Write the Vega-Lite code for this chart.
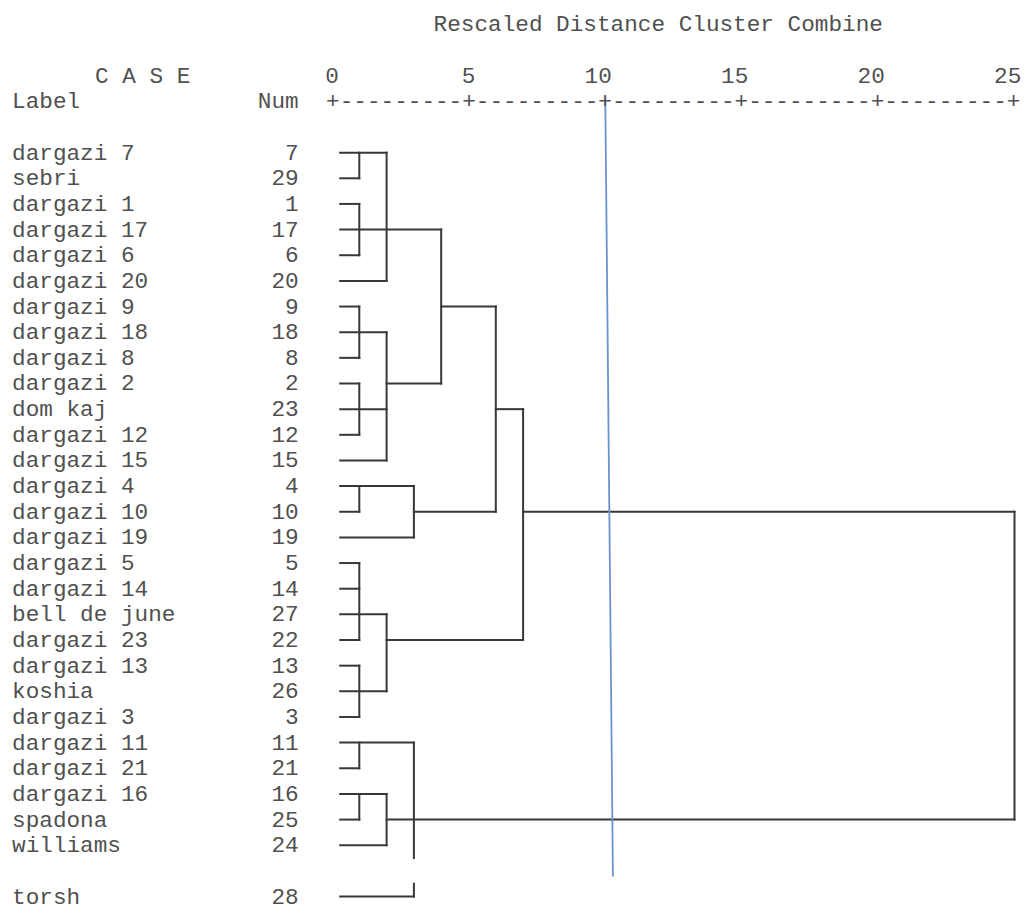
{
  "$schema": "https://vega.github.io/schema/vega-lite/v6.json",
  "width": 1024,
  "height": 905,
  "padding": 0,
  "autosize": {"type": "none"},
  "background": "white",
  "config": {"view": {"stroke": null}, "text": {"font": "Liberation Mono", "fontSize": 22.7, "color": "#505050", "baseline": "middle"}},
  "datasets": {
    "links": [
      {"d1": 0.3, "d2": 2, "r1": 0, "r2": 0},
      {"d1": 0.3, "d2": 1, "r1": 1, "r2": 1},
      {"d1": 0.3, "d2": 1, "r1": 2, "r2": 2},
      {"d1": 0.3, "d2": 4, "r1": 3, "r2": 3},
      {"d1": 0.3, "d2": 1, "r1": 4, "r2": 4},
      {"d1": 0.3, "d2": 2, "r1": 5, "r2": 5},
      {"d1": 0.3, "d2": 1, "r1": 6, "r2": 6},
      {"d1": 4, "d2": 6, "r1": 6, "r2": 6},
      {"d1": 0.3, "d2": 2, "r1": 7, "r2": 7},
      {"d1": 0.3, "d2": 1, "r1": 8, "r2": 8},
      {"d1": 0.3, "d2": 1, "r1": 9, "r2": 9},
      {"d1": 2, "d2": 4, "r1": 9, "r2": 9},
      {"d1": 0.3, "d2": 2, "r1": 10, "r2": 10},
      {"d1": 6, "d2": 7, "r1": 10, "r2": 10},
      {"d1": 0.3, "d2": 1, "r1": 11, "r2": 11},
      {"d1": 0.3, "d2": 2, "r1": 12, "r2": 12},
      {"d1": 0.3, "d2": 3, "r1": 13, "r2": 13},
      {"d1": 0.3, "d2": 1, "r1": 14, "r2": 14},
      {"d1": 3, "d2": 6, "r1": 14, "r2": 14},
      {"d1": 7, "d2": 25, "r1": 14, "r2": 14},
      {"d1": 0.3, "d2": 3, "r1": 15, "r2": 15},
      {"d1": 0.3, "d2": 1, "r1": 16, "r2": 16},
      {"d1": 0.3, "d2": 1, "r1": 17, "r2": 17},
      {"d1": 0.3, "d2": 2, "r1": 18, "r2": 18},
      {"d1": 0.3, "d2": 1, "r1": 19, "r2": 19},
      {"d1": 2, "d2": 7, "r1": 19, "r2": 19},
      {"d1": 0.3, "d2": 1, "r1": 20, "r2": 20},
      {"d1": 0.3, "d2": 2, "r1": 21, "r2": 21},
      {"d1": 0.3, "d2": 1, "r1": 22, "r2": 22},
      {"d1": 0.3, "d2": 3, "r1": 23, "r2": 23},
      {"d1": 0.3, "d2": 1, "r1": 24, "r2": 24},
      {"d1": 0.3, "d2": 2, "r1": 25, "r2": 25},
      {"d1": 0.3, "d2": 1, "r1": 26, "r2": 26},
      {"d1": 2, "d2": 25, "r1": 26, "r2": 26},
      {"d1": 0.3, "d2": 2, "r1": 27, "r2": 27},
      {"d1": 0.3, "d2": 3, "r1": 29, "r2": 29},
      {"d1": 1, "d2": 1, "r1": 0, "r2": 1},
      {"d1": 1, "d2": 1, "r1": 2, "r2": 4},
      {"d1": 1, "d2": 1, "r1": 6, "r2": 8},
      {"d1": 1, "d2": 1, "r1": 9, "r2": 11},
      {"d1": 1, "d2": 1, "r1": 13, "r2": 14},
      {"d1": 1, "d2": 1, "r1": 16, "r2": 19},
      {"d1": 1, "d2": 1, "r1": 20, "r2": 22},
      {"d1": 1, "d2": 1, "r1": 23, "r2": 24},
      {"d1": 1, "d2": 1, "r1": 25, "r2": 26},
      {"d1": 2, "d2": 2, "r1": 0, "r2": 5},
      {"d1": 2, "d2": 2, "r1": 7, "r2": 12},
      {"d1": 2, "d2": 2, "r1": 18, "r2": 21},
      {"d1": 2, "d2": 2, "r1": 25, "r2": 27},
      {"d1": 3, "d2": 3, "r1": 13, "r2": 15},
      {"d1": 3, "d2": 3, "r1": 23, "r2": 27.5},
      {"d1": 3, "d2": 3, "r1": 28.5, "r2": 29},
      {"d1": 4, "d2": 4, "r1": 3, "r2": 9},
      {"d1": 6, "d2": 6, "r1": 6, "r2": 14},
      {"d1": 7, "d2": 7, "r1": 10, "r2": 19},
      {"d1": 25, "d2": 25, "r1": 14, "r2": 26}
    ],
    "cases": [
      {"row": 0, "label": "dargazi 7", "num": "7"},
      {"row": 1, "label": "sebri", "num": "29"},
      {"row": 2, "label": "dargazi 1", "num": "1"},
      {"row": 3, "label": "dargazi 17", "num": "17"},
      {"row": 4, "label": "dargazi 6", "num": "6"},
      {"row": 5, "label": "dargazi 20", "num": "20"},
      {"row": 6, "label": "dargazi 9", "num": "9"},
      {"row": 7, "label": "dargazi 18", "num": "18"},
      {"row": 8, "label": "dargazi 8", "num": "8"},
      {"row": 9, "label": "dargazi 2", "num": "2"},
      {"row": 10, "label": "dom kaj", "num": "23"},
      {"row": 11, "label": "dargazi 12", "num": "12"},
      {"row": 12, "label": "dargazi 15", "num": "15"},
      {"row": 13, "label": "dargazi 4", "num": "4"},
      {"row": 14, "label": "dargazi 10", "num": "10"},
      {"row": 15, "label": "dargazi 19", "num": "19"},
      {"row": 16, "label": "dargazi 5", "num": "5"},
      {"row": 17, "label": "dargazi 14", "num": "14"},
      {"row": 18, "label": "bell de june", "num": "27"},
      {"row": 19, "label": "dargazi 23", "num": "22"},
      {"row": 20, "label": "dargazi 13", "num": "13"},
      {"row": 21, "label": "koshia", "num": "26"},
      {"row": 22, "label": "dargazi 3", "num": "3"},
      {"row": 23, "label": "dargazi 11", "num": "11"},
      {"row": 24, "label": "dargazi 21", "num": "21"},
      {"row": 25, "label": "dargazi 16", "num": "16"},
      {"row": 26, "label": "spadona", "num": "25"},
      {"row": 27, "label": "williams", "num": "24"},
      {"row": 29, "label": "torsh", "num": "28"}
    ],
    "ticks": [
      {"v": 0}, {"v": 5}, {"v": 10}, {"v": 15}, {"v": 20}, {"v": 25}
    ],
    "cut": [
      {"d1": 10.01, "d2": 10.29, "r1": -2.18, "r2": 28.22}
    ]
  },
  "layer": [
    {
      "data": {"name": "links"},
      "mark": {"type": "rule", "color": "#383838", "strokeWidth": 2, "strokeCap": "square"},
      "encoding": {
        "x": {"field": "d1", "type": "quantitative", "scale": {"domain": [-12.161, 25.348], "nice": false, "zero": false}, "axis": null},
        "x2": {"field": "d2"},
        "y": {"field": "r1", "type": "quantitative", "scale": {"domain": [-5.95, 29.33], "nice": false, "zero": false, "reverse": true}, "axis": null},
        "y2": {"field": "r2"}
      }
    },
    {
      "data": {"name": "cut"},
      "mark": {"type": "rule", "color": "#6a92cb", "strokeWidth": 1.8},
      "encoding": {
        "x": {"field": "d1", "type": "quantitative"},
        "x2": {"field": "d2"},
        "y": {"field": "r1", "type": "quantitative"},
        "y2": {"field": "r2"}
      }
    },
    {
      "data": {"name": "cases"},
      "mark": {"type": "text", "align": "left"},
      "encoding": {
        "x": {"datum": -11.72, "type": "quantitative"},
        "y": {"field": "row", "type": "quantitative"},
        "text": {"field": "label"}
      }
    },
    {
      "data": {"name": "cases"},
      "mark": {"type": "text", "align": "right"},
      "encoding": {
        "x": {"datum": -1.22, "type": "quantitative"},
        "y": {"field": "row", "type": "quantitative"},
        "text": {"field": "num"}
      }
    },
    {
      "data": {"name": "ticks"},
      "mark": {"type": "text", "align": "right", "dx": 6.8},
      "encoding": {
        "x": {"field": "v", "type": "quantitative"},
        "y": {"datum": -3, "type": "quantitative"},
        "text": {"field": "v"}
      }
    },
    {
      "data": {"values": [{"t": "+---------+---------+---------+---------+---------+"}]},
      "mark": {"type": "text", "align": "center"},
      "encoding": {
        "x": {"datum": 12.5, "type": "quantitative"},
        "y": {"datum": -2, "type": "quantitative"},
        "text": {"field": "t"}
      }
    },
    {
      "data": {"values": [{"t": "Rescaled Distance Cluster Combine"}]},
      "mark": {"type": "text", "align": "center"},
      "encoding": {
        "x": {"datum": 11.95, "type": "quantitative"},
        "y": {"datum": -5, "type": "quantitative"},
        "text": {"field": "t"}
      }
    },
    {
      "data": {"values": [{"t": "C A S E"}]},
      "mark": {"type": "text", "align": "left"},
      "encoding": {
        "x": {"datum": -8.68, "type": "quantitative"},
        "y": {"datum": -3, "type": "quantitative"},
        "text": {"field": "t"}
      }
    },
    {
      "data": {"values": [{"t": "Label"}]},
      "mark": {"type": "text", "align": "left"},
      "encoding": {
        "x": {"datum": -11.72, "type": "quantitative"},
        "y": {"datum": -2, "type": "quantitative"},
        "text": {"field": "t"}
      }
    },
    {
      "data": {"values": [{"t": "Num"}]},
      "mark": {"type": "text", "align": "right"},
      "encoding": {
        "x": {"datum": -1.22, "type": "quantitative"},
        "y": {"datum": -2, "type": "quantitative"},
        "text": {"field": "t"}
      }
    }
  ]
}
